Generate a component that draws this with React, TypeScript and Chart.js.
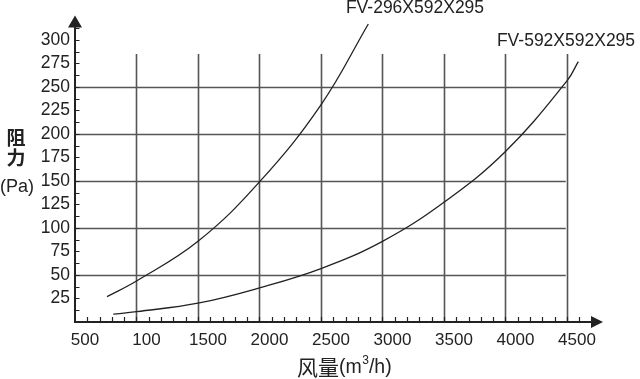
import React, { useEffect, useRef } from 'react';
import { Chart, registerables } from 'chart.js';

Chart.register(...registerables);

// ---- data ----
const xTickValues = [500, 1000, 1500, 2000, 2500, 3000, 3500, 4000, 4500];
const xTickLabels = ['500', '100', '1500', '2000', '2500', '3000', '3500', '4000', '4500'];
const yTickValues = [25, 50, 75, 100, 125, 150, 175, 200, 225, 250, 275, 300];
const xGridValues = [1000, 1500, 2000, 2500, 3000, 3500, 4000, 4500];
const yGridValues = [50, 100, 150, 200, 250];

const series1Name = 'FV-296X592X295';
const series1Flow = [760, 1000, 1500, 2000, 2500, 2885];
const series1Pressure = [27, 43.6, 85.8, 149, 231, 317];

const series2Name = 'FV-592X592X295';
const series2Flow = [811, 1000, 1500, 2000, 2500, 3000, 3500, 4000, 4500, 4592];
const series2Pressure = [8.3, 11, 20, 36.3, 56.8, 85.8, 127.4, 181.4, 256.4, 277];

const xTitleCJK = '风量';
const xTitleParts = ['(m', '3', '/h)'];
const yTitleLines = ['阻', '力'];
const yTitleUnit = '(Pa)';

const X_MIN = 500;
const X_MAX = 4793;
const Y_MIN = 0;
const Y_MAX = 326;

const LATIN = '"Liberation Sans", Arial, sans-serif';
const CJK = '"Noto Sans CJK SC", sans-serif';

const decorPlugin = {
  id: 'decor',
  beforeDatasetsDraw(chart: any) {
    const { ctx, scales } = chart;
    const xs = scales.x;
    const ys = scales.y;
    ctx.save();
    ctx.strokeStyle = '#555';
    ctx.lineWidth = 1.6;
    for (const v of yGridValues) {
      const py = Math.round(ys.getPixelForValue(v)) + 0.5;
      ctx.beginPath();
      ctx.moveTo(xs.getPixelForValue(X_MIN), py);
      ctx.lineTo(xs.getPixelForValue(4490), py);
      ctx.stroke();
    }
    for (const v of xGridValues) {
      const px = Math.round(xs.getPixelForValue(v)) + 0.5;
      ctx.beginPath();
      ctx.moveTo(px, ys.getPixelForValue(0));
      ctx.lineTo(px, ys.getPixelForValue(285));
      ctx.stroke();
    }
    ctx.restore();
  },
  afterDraw(chart: any) {
    const { ctx, scales } = chart;
    const xs = scales.x;
    const ys = scales.y;
    const ax = xs.getPixelForValue(X_MIN);
    const ay = ys.getPixelForValue(0);
    ctx.save();
    ctx.strokeStyle = '#222';
    ctx.fillStyle = '#222';
    ctx.lineWidth = 2;
    ctx.beginPath();
    ctx.moveTo(ax, ay + 1);
    ctx.lineTo(ax, ys.getPixelForValue(Y_MAX) + 10);
    ctx.moveTo(ax - 1, ay);
    ctx.lineTo(xs.getPixelForValue(X_MAX) - 10, ay);
    ctx.stroke();
    const topY = ys.getPixelForValue(Y_MAX);
    ctx.beginPath();
    ctx.moveTo(ax, topY);
    ctx.lineTo(ax - 7, topY + 12);
    ctx.lineTo(ax + 7, topY + 12);
    ctx.closePath();
    ctx.fill();
    const rightX = xs.getPixelForValue(X_MAX);
    ctx.beginPath();
    ctx.moveTo(rightX, ay);
    ctx.lineTo(rightX - 12, ay - 6);
    ctx.lineTo(rightX - 12, ay + 6);
    ctx.closePath();
    ctx.fill();
    ctx.lineWidth = 1.2;
    ctx.beginPath();
    for (let v = 600; v <= 4600; v += 100) {
      const px = Math.round(xs.getPixelForValue(v)) + 0.5;
      ctx.moveTo(px, ay);
      ctx.lineTo(px, ay - 5);
    }
    for (let v = 12.5; v <= 313; v += 12.5) {
      const py = Math.round(ys.getPixelForValue(v)) + 0.5;
      ctx.moveTo(ax, py);
      ctx.lineTo(ax + 4.5, py);
    }
    ctx.stroke();

    ctx.fillStyle = '#222';
    ctx.textBaseline = 'middle';
    ctx.textAlign = 'center';
    ctx.font = `17.5px ${LATIN}`;
    ctx.fillText(series1Name, 415, 8);
    ctx.fillText(series2Name, 566, 41);

    ctx.font = `bold 19px ${CJK}`;
    ctx.fillText(yTitleLines[0], 16, 138);
    ctx.fillText(yTitleLines[1], 16, 158);
    ctx.font = `18px ${LATIN}`;
    ctx.fillText(yTitleUnit, 17, 187);

    ctx.textAlign = 'left';
    ctx.font = `21px ${CJK}`;
    let cx = 297;
    ctx.fillText(xTitleCJK, cx, 367);
    cx += ctx.measureText(xTitleCJK).width;
    ctx.font = `19.5px ${LATIN}`;
    ctx.fillText(xTitleParts[0], cx, 368);
    cx += ctx.measureText(xTitleParts[0]).width;
    ctx.font = `12px ${LATIN}`;
    ctx.fillText(xTitleParts[1], cx + 0.5, 361);
    cx += ctx.measureText(xTitleParts[1]).width + 0.5;
    ctx.font = `19.5px ${LATIN}`;
    ctx.fillText(xTitleParts[2], cx, 368);
    ctx.restore();
  },
};

export default function App() {
  const ref = useRef<HTMLCanvasElement | null>(null);
  useEffect(() => {
    document.body.style.margin = '0';
    if (!ref.current) return;
    const chart = new Chart(ref.current, {
      type: 'scatter',
      data: {
        datasets: [
          {
            label: series1Name,
            data: series1Flow.map((x, i) => ({ x, y: series1Pressure[i] })),
            showLine: true,
            borderColor: '#222',
            borderWidth: 1.3,
            pointRadius: 0,
            tension: 0.4,
          },
          {
            label: series2Name,
            data: series2Flow.map((x, i) => ({ x, y: series2Pressure[i] })),
            showLine: true,
            borderColor: '#222',
            borderWidth: 1.3,
            pointRadius: 0,
            tension: 0.4,
          },
        ],
      },
      options: {
        animation: false,
        responsive: false,
        maintainAspectRatio: false,
        layout: { padding: { left: 0, top: 8, right: 37, bottom: 0 } },
        plugins: { legend: { display: false }, tooltip: { enabled: false } },
        scales: {
          x: {
            type: 'linear',
            min: X_MIN,
            max: X_MAX,
            grid: { display: false, drawTicks: false },
            border: { display: false },
            afterBuildTicks: (scale: any) => {
              scale.ticks = xTickValues.map((v) => ({ value: v }));
            },
            afterFit: (scale: any) => {
              scale.height = 57;
            },
            ticks: {
              autoSkip: false,
              maxRotation: 0,
              padding: 8,
              labelOffset: 10,
              color: '#222',
              font: { family: LATIN, size: 17 },
              callback: (value: any) => {
                const i = xTickValues.indexOf(Number(value));
                return i >= 0 ? xTickLabels[i] : '';
              },
            },
          },
          y: {
            type: 'linear',
            min: Y_MIN,
            max: Y_MAX,
            grid: { display: false, drawTicks: false },
            border: { display: false },
            afterBuildTicks: (scale: any) => {
              scale.ticks = yTickValues.map((v) => ({ value: v }));
            },
            afterFit: (scale: any) => {
              scale.width = 75;
            },
            ticks: {
              autoSkip: false,
              padding: 5,
              color: '#222',
              font: { family: LATIN, size: 17.5 },
              callback: (value: any) => String(value),
            },
          },
        },
      },
      plugins: [decorPlugin],
    } as any);
    return () => chart.destroy();
  }, []);
  return (
    <div style={{ width: 640, height: 379, background: '#fff' }}>
      <canvas ref={ref} width={640} height={379} style={{ display: 'block' }} />
    </div>
  );
}
